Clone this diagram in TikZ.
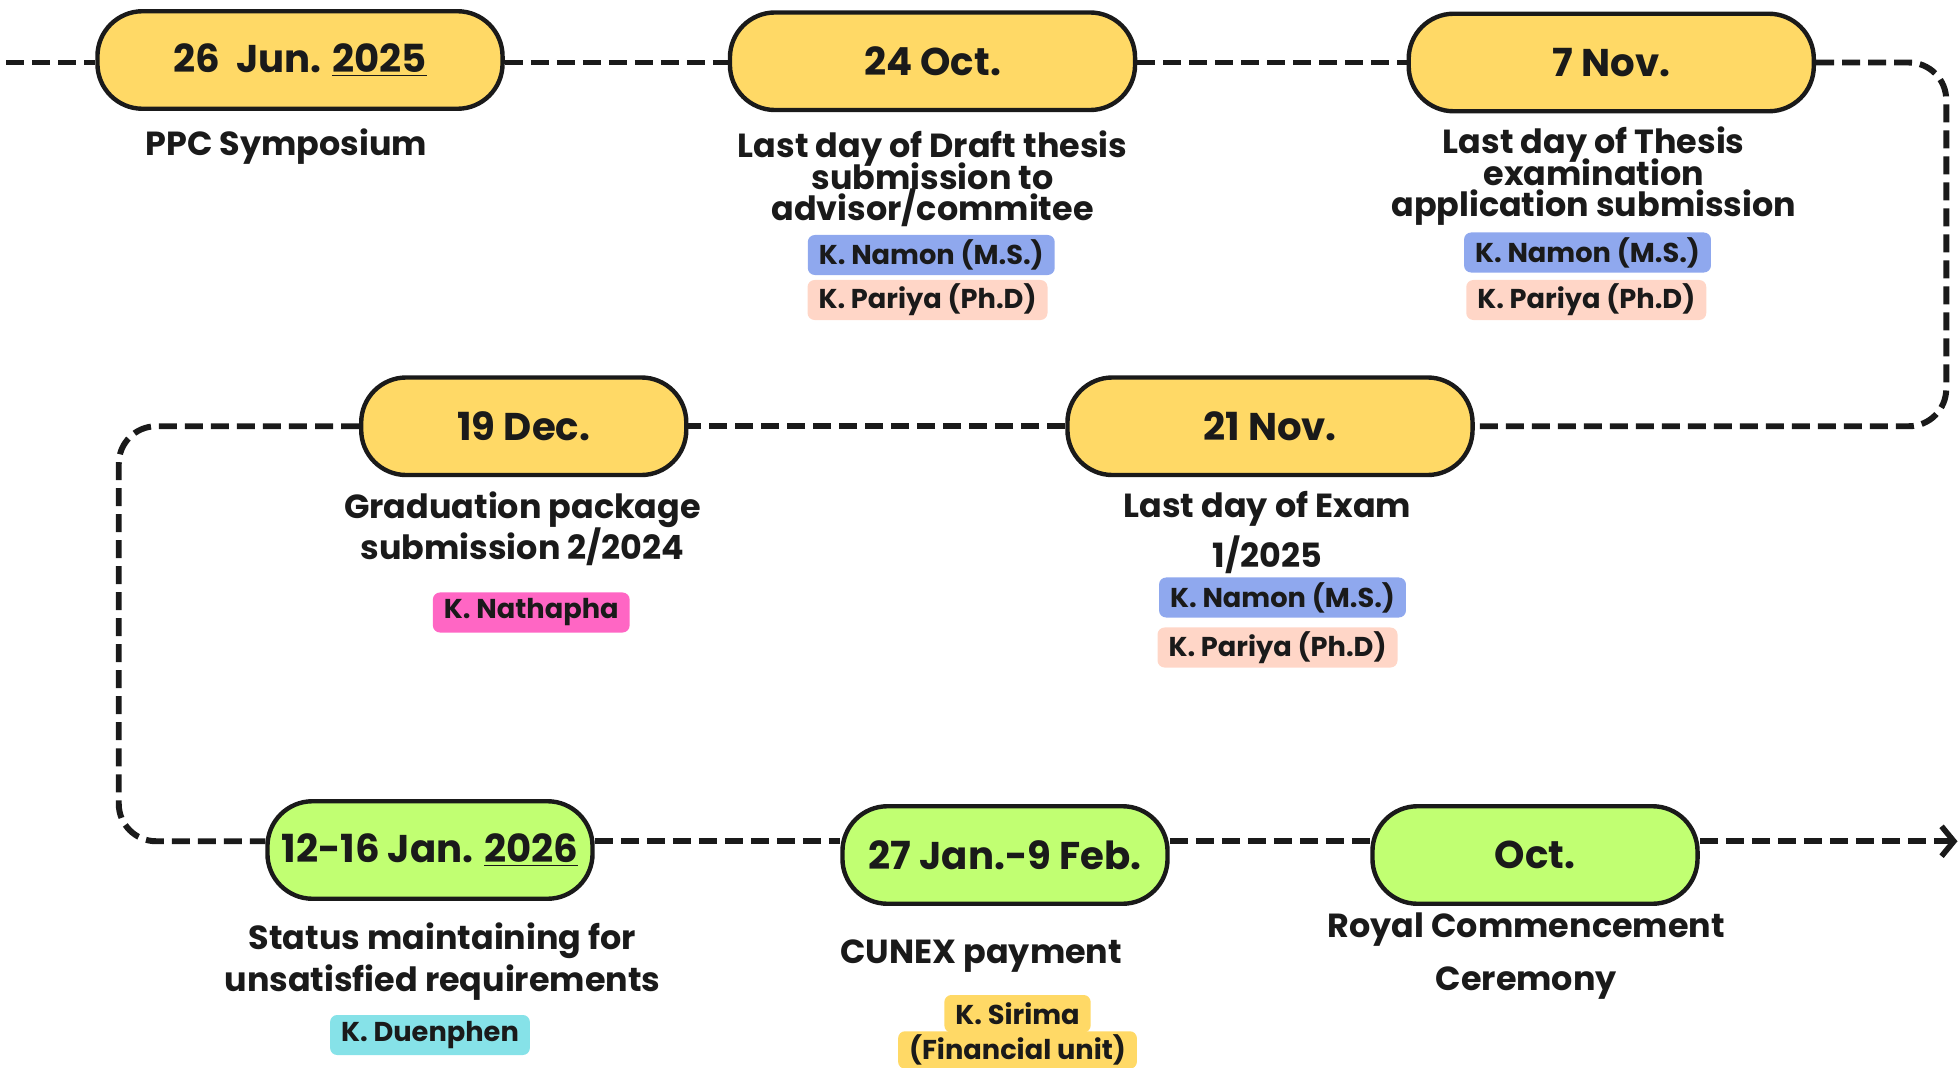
\documentclass[tikz,border=0pt]{standalone}
\usepackage{fontspec}
\usetikzlibrary{positioning,arrows.meta}
\setmainfont{Poppins}
\newfontfamily\tagfam{Poppins}
\definecolor{inkcolor}{RGB}{26,26,26}
\definecolor{dateyellow}{RGB}{255,217,102}
\definecolor{dategreen}{RGB}{193,255,114}
\definecolor{tagblue}{RGB}{143,168,238}
\definecolor{tagpeach}{RGB}{255,214,199}
\definecolor{tagpink}{RGB}{255,102,196}
\definecolor{tagcyan}{RGB}{134,226,232}
\newcommand{\datefont}{\fontsize{22}{24}\selectfont\bfseries}
\newcommand{\descfont}[1][18]{\fontsize{19}{#1}\selectfont\bfseries\lineskiplimit=-30pt}
\newcommand{\tagfont}{\tagfam\fontsize{15.5}{16}\selectfont\bfseries}

\begin{document}
\begin{tikzpicture}[x=0.025cm, y=0.025cm,
    datebox/.style={draw=inkcolor, line width=2.5pt, rounded corners=0.9cm, minimum height=1.95cm, text=inkcolor, font=\datefont},
    yellowbox/.style={datebox, fill=dateyellow, minimum width=8.1cm},
    greenbox/.style={datebox, fill=dategreen, minimum width=6.5cm},
    desc/.style={align=center, text=inkcolor, font=\descfont},
    tag/.style={rounded corners=4pt, inner xsep=0.22cm, inner ysep=0pt, minimum height=0.8cm, text=inkcolor, font=\tagfont},
    timeline/.style={draw=inkcolor, line width=3.4pt, dash pattern=on 0.36cm off 0.16cm}
]
\useasboundingbox (0,0) rectangle (1568,-854);

% dates
\node[yellowbox] (jun) at (240,-48) {26\ \ Jun. \underline{2025}};
\node[yellowbox] (oct) at (746,-49) {24 Oct.};
\node[yellowbox] (nov) at (1289,-50) {7 Nov.};
\node[yellowbox] (exam) at (1016,-341) {21 Nov.};
\node[yellowbox, minimum width=6.5cm] (dec) at (419,-341) {19 Dec.};
\node[greenbox] (jan) at (344,-680) {12-16 Jan. \underline{2026}};
\node[greenbox] (feb) at (804,-684) {27 Jan.-9 Feb.};
\node[greenbox] (cer) at (1228,-684) {Oct.};

% timeline
\coordinate (start) at (5,-50);
\coordinate (rturn) at (1557,-341);
\coordinate (lturn) at (95,-673);
\coordinate (finish) at (1566,-673);
\draw[timeline] (start) -- (jun.west |- start);
\draw[timeline] (jun.east |- start) -- (oct.west |- start);
\draw[timeline] (oct.east |- start) -- (nov.west |- start);
\draw[timeline, rounded corners=0.75cm] (nov.east |- start) -| (rturn) -- (exam);
\draw[timeline] (exam) -- (dec);
\draw[timeline, rounded corners=0.75cm] (dec) -| (lturn) -- (jan.west |- lturn);
\draw[timeline] (jan.east |- lturn) -- (feb.west |- lturn);
\draw[timeline] (feb.east |- lturn) -- (cer.west |- lturn);
\draw[timeline, -{Straight Barb[length=7pt, width=17pt, line width=3.2pt]}] (cer.east |- lturn) -- (finish);

% what happens
\node[desc] (ppc) at (229,-117) {PPC Symposium};
\node[desc] (draft) at (746,-143) {Last day of Draft thesis\\submission to\\advisor/commitee};
\node[desc] (apply) at (1275,-141) {Last day of Thesis\\examination\\application submission};
\node[desc, font={\descfont[28.4]}] (lastexam) at (1014,-426) {Last day of Exam\\1/2025};
\node[desc, font={\descfont[23.4]}] (grad) at (418,-423) {Graduation package\\submission 2/2024};
\node[desc, font={\descfont[24]}] (status) at (354,-769) {Status maintaining for\\unsatisfied requirements};
\node[desc] (cunex) at (785,-765) {CUNEX payment};
\node[desc, font={\descfont[30]}] (royal) at (1221,-765) {Royal Commencement\\Ceremony};

% who
\node[tag, fill=tagblue] (namonA) at (745,-204) {K. Namon (M.S.)};
\node[tag, fill=tagpeach] (pariyaA) at (742,-240) {K. Pariya (Ph.D)};
\node[tag, fill=tagblue] (namonB) at (1270,-202) {K. Namon (M.S.)};
\node[tag, fill=tagpeach] (pariyaB) at (1269,-240) {K. Pariya (Ph.D)};
\node[tag, fill=tagblue] (namonC) at (1026,-478) {K. Namon (M.S.)};
\node[tag, fill=tagpeach] (pariyaC) at (1022,-518) {K. Pariya (Ph.D)};
\node[tag, fill=tagpink] (nathapha) at (425,-490) {K. Nathapha};
\node[tag, fill=tagcyan] (duenphen) at (344,-828) {K. Duenphen};
\node[tag, fill=dateyellow, minimum height=0.75cm] (sirimaA) at (814,-811) {K. Sirima};
\node[tag, fill=dateyellow, minimum height=0.75cm] (sirimaB) at (814,-840) {(Financial unit)};
\end{tikzpicture}
\end{document}
